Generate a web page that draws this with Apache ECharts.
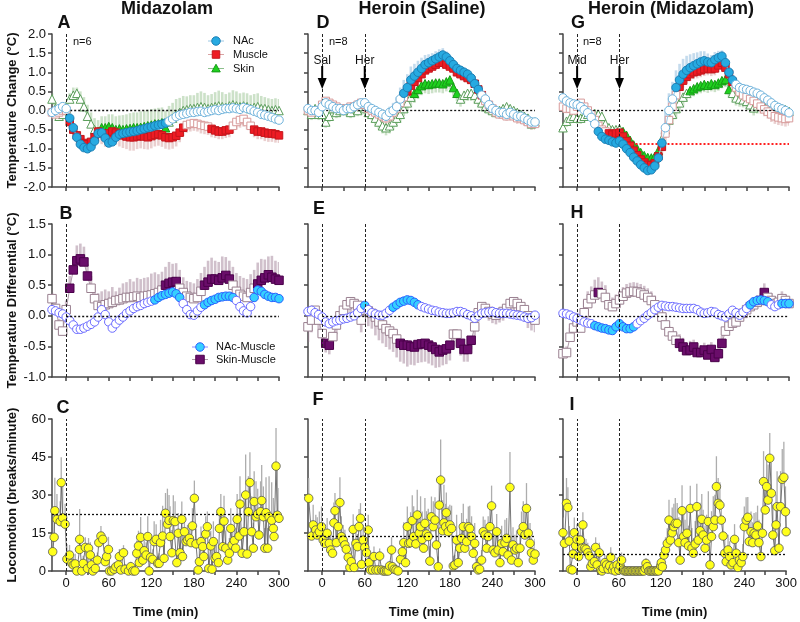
<!DOCTYPE html>
<html><head><meta charset="utf-8">
<script src="https://cdn.jsdelivr.net/npm/echarts@6/dist/echarts.min.js"></script>
<style>html,body{margin:0;padding:0;background:#fff}#c{width:800px;height:622px}</style>
</head><body><div id="c"></div>
<script>
// ---------- DATA ----------
const timeT = [-20,-15,-10,-5,0,5,10,15,20,25,30,35,40,45,50,55,60,65,70,75,80,85,90,95,100,105,110,115,120,125,130,135,140,145,150,155,160,165,170,175,180,185,190,195,200,205,210,215,220,225,230,235,240,245,250,255,260,265,270,275,280,285,290,295,300];
const xTicks = [0,30,60,90,120,150,180,210,240,270,300];
const xLabels = [0,60,120,180,240,300];

// Panel A (Midazolam) temperature change
const A_nac = [-0.05,0.0,0.05,0.1,0.05,-0.2,-0.45,-0.7,-0.88,-0.97,-1.0,-0.95,-0.8,
 -0.6,-0.58,-0.72,-0.85,-0.82,-0.7,-0.62,-0.6,-0.58,-0.56,-0.55,-0.53,-0.5,
 -0.48,-0.45,-0.43,-0.4,-0.38,-0.36,-0.33,-0.28,-0.22,-0.16,-0.12,-0.1,-0.08,
 -0.05,-0.05,-0.03,-0.02,-0.05,-0.03,0.0,0.02,0.0,0.03,0.05,0.05,0.07,
 0.05,0.03,0.08,0.05,0.02,-0.02,-0.05,-0.1,-0.12,-0.15,-0.18,-0.22,-0.25];
const A_nac_err = [0.05,0.05,0.05,0.05,0.05,0.06,0.08,0.1,0.1,0.1,0.1,0.1,0.1,
 0.08,0.08,0.08,0.1,0.1,0.08,0.08,0.08,0.08,0.08,0.08,0.08,0.08,
 0.08,0.08,0.08,0.08,0.08,0.08,0.08,0.08,0.08,0.08,0.08,0.08,0.08,
 0.08,0.08,0.08,0.08,0.08,0.08,0.08,0.08,0.08,0.08,0.08,0.08,0.08,
 0.08,0.08,0.08,0.08,0.08,0.08,0.08,0.08,0.08,0.08,0.08,0.08,0.08];
const A_nac_sig = [[5,140]];
const A_mus = [-0.05,-0.1,-0.05,0.0,0.0,-0.3,-0.5,-0.65,-0.75,-0.85,-0.88,-0.82,-0.7,
 -0.55,-0.6,-0.65,-0.6,-0.55,-0.58,-0.62,-0.65,-0.68,-0.7,-0.7,-0.68,-0.66,
 -0.68,-0.7,-0.67,-0.64,-0.62,-0.65,-0.7,-0.72,-0.7,-0.66,-0.58,-0.45,-0.38,
 -0.35,-0.33,-0.35,-0.38,-0.4,-0.42,-0.48,-0.52,-0.55,-0.55,-0.52,-0.5,-0.4,
 -0.3,-0.25,-0.22,-0.3,-0.4,-0.5,-0.55,-0.55,-0.58,-0.6,-0.6,-0.62,-0.65];
const A_mus_err = [0.1,0.1,0.1,0.1,0.1,0.15,0.15,0.18,0.2,0.2,0.2,0.22,0.25,
 0.25,0.28,0.3,0.3,0.3,0.32,0.32,0.33,0.33,0.35,0.35,0.33,0.33,
 0.33,0.32,0.32,0.3,0.3,0.3,0.3,0.3,0.3,0.28,0.25,0.22,0.2,
 0.2,0.2,0.2,0.22,0.22,0.22,0.22,0.2,0.2,0.2,0.2,0.2,0.2,
 0.2,0.2,0.2,0.2,0.2,0.2,0.2,0.2,0.22,0.22,0.22,0.22,0.2];
const A_mus_sig = [[5,165],[205,230],[265,300]];
const A_skin = [0.3,0.05,-0.15,-0.1,0.05,0.3,0.4,0.45,0.3,0.1,-0.15,-0.35,-0.5,
 -0.55,-0.45,-0.45,-0.42,-0.45,-0.5,-0.48,-0.5,-0.48,-0.47,-0.45,-0.45,-0.44,
 -0.42,-0.4,-0.38,-0.35,-0.35,-0.32,-0.45,-0.3,-0.2,-0.1,-0.05,0.0,0.02,
 0.05,0.05,0.08,0.1,0.08,0.05,0.08,0.1,0.12,0.1,0.08,0.12,0.15,
 0.12,0.1,0.12,0.1,0.05,0.08,0.1,0.05,0.05,0.02,0.0,0.02,0.0];
const A_skin_err = [0.15,0.15,0.15,0.15,0.15,0.15,0.2,0.15,0.2,0.25,0.3,0.3,0.3,
 0.3,0.3,0.3,0.32,0.35,0.35,0.35,0.38,0.38,0.4,0.4,0.4,0.42,
 0.42,0.42,0.42,0.4,0.42,0.4,0.45,0.42,0.4,0.4,0.38,0.38,0.35,
 0.35,0.35,0.38,0.4,0.38,0.35,0.35,0.38,0.4,0.38,0.35,0.35,0.38,
 0.38,0.35,0.35,0.35,0.35,0.35,0.35,0.33,0.3,0.3,0.3,0.3,0.3];
const A_skin_sig = [[45,140]];

// Panel D (Heroin, Saline)
const D_nac = [0.05,0.0,0.0,-0.05,0.1,0.2,0.15,0.1,0.05,0.05,0.0,0.05,0.05,
 0.1,0.15,0.2,0.2,0.1,0.05,0.0,-0.05,-0.1,-0.15,-0.05,0.0,0.1,
 0.3,0.45,0.6,0.8,0.9,1.0,1.1,1.2,1.25,1.3,1.35,1.4,1.45,
 1.4,1.3,1.2,1.1,1.05,1.0,0.95,0.85,0.7,0.55,0.4,0.3,0.15,
 0.05,0.0,-0.05,-0.05,-0.1,-0.05,-0.1,-0.15,-0.15,-0.2,-0.25,-0.3,-0.3];
const D_nac_err = [0.06,0.06,0.06,0.06,0.06,0.08,0.08,0.08,0.08,0.08,0.08,0.08,0.08,
 0.08,0.08,0.1,0.1,0.1,0.1,0.1,0.1,0.1,0.12,0.15,0.2,0.25,
 0.3,0.35,0.35,0.35,0.32,0.3,0.28,0.25,0.22,0.2,0.2,0.2,0.18,
 0.15,0.15,0.12,0.12,0.12,0.12,0.12,0.1,0.1,0.1,0.1,0.1,0.1,
 0.1,0.1,0.1,0.1,0.1,0.1,0.1,0.1,0.1,0.1,0.1,0.1,0.1];
const D_nac_sig = [[115,220]];
const D_mus = [0.0,-0.05,0.0,0.0,0.15,0.25,0.2,0.15,0.1,0.05,0.05,0.05,0.1,
 0.1,0.15,0.2,0.15,0.05,0.0,-0.05,-0.1,-0.15,-0.2,-0.15,-0.05,0.05,
 0.2,0.35,0.5,0.65,0.75,0.85,0.95,1.05,1.1,1.15,1.2,1.25,1.25,
 1.2,1.15,1.1,1.0,0.95,0.9,0.85,0.8,0.7,0.55,0.4,0.25,0.15,
 0.05,-0.05,-0.1,-0.1,-0.15,-0.1,-0.15,-0.2,-0.2,-0.25,-0.3,-0.35,-0.35];
const D_mus_err = [0.1,0.1,0.1,0.1,0.1,0.12,0.12,0.12,0.12,0.12,0.12,0.12,0.12,
 0.12,0.12,0.12,0.12,0.12,0.15,0.15,0.15,0.15,0.15,0.15,0.15,0.15,
 0.15,0.15,0.15,0.15,0.15,0.15,0.12,0.12,0.12,0.12,0.12,0.12,0.12,
 0.12,0.12,0.12,0.12,0.12,0.12,0.12,0.12,0.12,0.12,0.12,0.12,0.12,
 0.12,0.12,0.12,0.12,0.12,0.12,0.12,0.15,0.15,0.15,0.15,0.15,0.15];
const D_mus_sig = [[120,225]];
const D_skin = [0.0,-0.1,0.05,-0.1,-0.1,-0.3,-0.15,0.05,-0.05,0.0,0.05,0.0,-0.05,
 0.05,0.0,0.1,0.05,-0.05,-0.1,-0.2,-0.3,-0.4,-0.45,-0.4,-0.3,-0.2,
 -0.1,0.05,0.2,0.35,0.45,0.55,0.65,0.7,0.68,0.7,0.72,0.72,0.7,
 0.75,0.8,0.6,0.45,0.3,0.4,0.45,0.45,0.4,0.3,0.2,0.1,0.05,
 0.0,-0.05,0.0,0.05,0.1,0.05,0.0,-0.05,-0.1,-0.15,-0.2,-0.35,-0.3];
const D_skin_err = [0.15,0.15,0.15,0.15,0.15,0.15,0.15,0.15,0.15,0.15,0.15,0.15,0.15,
 0.15,0.15,0.15,0.15,0.15,0.15,0.18,0.2,0.2,0.2,0.2,0.2,0.2,
 0.2,0.2,0.22,0.25,0.25,0.25,0.25,0.25,0.25,0.25,0.25,0.25,0.25,
 0.25,0.25,0.22,0.2,0.2,0.2,0.2,0.2,0.2,0.18,0.15,0.15,0.15,
 0.15,0.15,0.15,0.15,0.15,0.15,0.15,0.15,0.15,0.15,0.15,0.15,0.15];
const D_skin_sig = [[130,190]];

// Panel G (Heroin, Midazolam)
const G_nac = [0.33,0.25,0.2,0.17,0.15,0.1,0.02,-0.06,-0.18,-0.35,-0.55,-0.68,-0.75,
 -0.78,-0.82,-0.85,-0.8,-0.88,-1.0,-1.1,-1.22,-1.32,-1.42,-1.5,-1.57,-1.55,
 -1.45,-1.24,-0.85,-0.45,0.0,0.3,0.6,0.8,0.95,1.05,1.12,1.17,1.22,
 1.27,1.3,1.27,1.25,1.33,1.38,1.42,1.25,1.0,0.8,0.68,0.6,0.57,
 0.55,0.52,0.48,0.45,0.4,0.33,0.27,0.2,0.13,0.08,0.04,0.0,-0.06];
const G_nac_err = [0.08,0.08,0.08,0.08,0.08,0.08,0.08,0.08,0.08,0.08,0.08,0.08,0.08,
 0.08,0.08,0.08,0.08,0.1,0.1,0.12,0.12,0.12,0.12,0.12,0.12,0.12,
 0.15,0.2,0.3,0.4,0.45,0.45,0.45,0.42,0.4,0.38,0.35,0.33,0.3,
 0.28,0.25,0.22,0.2,0.2,0.18,0.15,0.15,0.12,0.12,0.1,0.1,0.1,
 0.1,0.1,0.1,0.1,0.1,0.1,0.1,0.1,0.1,0.1,0.1,0.1,0.1];
const G_nac_sig = [[30,120],[140,220]];
const G_mus = [0.1,0.05,0.05,0.0,0.1,0.2,0.1,0.0,-0.1,-0.25,-0.4,-0.5,-0.55,
 -0.6,-0.63,-0.6,-0.58,-0.68,-0.8,-0.92,-1.05,-1.17,-1.28,-1.36,-1.42,-1.43,
 -1.38,-1.2,-0.95,-0.6,-0.25,0.1,0.4,0.62,0.78,0.88,0.95,1.0,1.02,
 1.05,1.08,1.1,1.08,1.1,1.18,1.25,1.12,0.95,0.75,0.6,0.48,0.4,
 0.35,0.3,0.25,0.18,0.1,0.03,-0.03,-0.1,-0.15,-0.18,-0.2,-0.22,-0.2];
const G_mus_err = [0.12,0.12,0.12,0.12,0.12,0.12,0.12,0.12,0.12,0.12,0.12,0.12,0.12,
 0.12,0.12,0.12,0.12,0.15,0.15,0.18,0.18,0.2,0.2,0.2,0.22,0.22,
 0.22,0.22,0.22,0.2,0.2,0.2,0.2,0.2,0.18,0.18,0.18,0.18,0.18,
 0.18,0.18,0.18,0.18,0.18,0.18,0.18,0.18,0.18,0.18,0.18,0.18,0.18,
 0.18,0.18,0.18,0.18,0.18,0.18,0.18,0.2,0.2,0.2,0.2,0.2,0.2];
const G_mus_sig = [[45,120],[145,220]];
const G_skin = [-0.45,-0.28,-0.2,-0.15,-0.2,-0.2,-0.15,-0.1,-0.1,-0.08,-0.1,-0.15,-0.35,
 -0.45,-0.5,-0.5,-0.48,-0.55,-0.65,-0.78,-0.9,-1.0,-1.1,-1.18,-1.23,-1.24,
 -1.2,-1.05,-0.75,-0.5,-0.25,-0.1,0.05,0.2,0.35,0.45,0.52,0.57,0.62,
 0.65,0.68,0.66,0.7,0.68,0.72,0.78,0.81,0.55,0.45,0.33,0.3,0.28,
 0.24,0.15,0.07,0.12,0.16,0.1,0.07,0.08,0.05,0.07,0.05,0.02,-0.02];
const G_skin_err = [0.15,0.15,0.15,0.15,0.15,0.15,0.15,0.15,0.15,0.15,0.15,0.15,0.15,
 0.15,0.15,0.15,0.15,0.15,0.15,0.15,0.15,0.15,0.15,0.15,0.15,0.15,
 0.15,0.18,0.2,0.22,0.25,0.25,0.25,0.25,0.25,0.22,0.2,0.2,0.2,
 0.2,0.2,0.2,0.2,0.2,0.2,0.2,0.2,0.2,0.2,0.2,0.2,0.2,
 0.2,0.2,0.2,0.2,0.2,0.2,0.2,0.2,0.2,0.2,0.2,0.2,0.2];
const G_skin_sig = [[65,115],[160,215]];

// Panel B / E / H : temperature differentials
const B_nacm = [0.1,0.08,0.05,0.03,-0.02,-0.08,-0.15,-0.22,-0.22,-0.2,-0.17,-0.14,-0.1,
 -0.02,0.1,0.02,-0.1,-0.2,-0.13,-0.07,-0.02,0.04,0.08,0.12,0.15,0.17,
 0.2,0.22,0.24,0.26,0.3,0.33,0.35,0.37,0.39,0.36,0.3,0.2,0.1,
 0.02,0.01,0.08,0.14,0.18,0.22,0.25,0.27,0.3,0.31,0.32,0.32,0.3,
 0.25,0.15,0.08,0.05,0.15,0.3,0.42,0.4,0.35,0.32,0.3,0.3,0.28];
const B_nacm_err = [0.03,0.03,0.03,0.03,0.03,0.04,0.04,0.05,0.05,0.05,0.05,0.05,0.05,
 0.05,0.05,0.05,0.05,0.05,0.05,0.05,0.04,0.04,0.04,0.04,0.04,0.04,
 0.04,0.04,0.04,0.04,0.04,0.04,0.04,0.04,0.04,0.04,0.04,0.04,0.04,
 0.04,0.04,0.04,0.04,0.04,0.04,0.04,0.04,0.04,0.04,0.04,0.04,0.04,
 0.04,0.04,0.04,0.04,0.04,0.05,0.05,0.05,0.04,0.04,0.04,0.04,0.04];
const B_nacm_sig = [[125,160],[195,235],[265,300]];
const B_skinm = [0.28,0.12,-0.15,-0.25,0.1,0.45,0.75,0.9,0.93,0.88,0.65,0.45,0.28,
 0.17,0.15,0.18,0.2,0.22,0.25,0.26,0.28,0.3,0.3,0.31,0.32,0.3,
 0.32,0.33,0.34,0.36,0.38,0.42,0.5,0.53,0.55,0.56,0.45,0.38,0.32,
 0.3,0.28,0.3,0.4,0.5,0.55,0.6,0.6,0.58,0.62,0.66,0.6,0.5,
 0.4,0.35,0.32,0.3,0.38,0.45,0.52,0.58,0.62,0.67,0.63,0.6,0.58];
const B_skinm_err = [0.1,0.1,0.1,0.1,0.15,0.2,0.2,0.25,0.25,0.25,0.2,0.2,0.2,
 0.2,0.25,0.25,0.2,0.25,0.15,0.2,0.25,0.25,0.3,0.25,0.3,0.3,
 0.3,0.3,0.35,0.35,0.3,0.3,0.3,0.35,0.3,0.3,0.3,0.25,0.25,
 0.25,0.25,0.3,0.3,0.3,0.35,0.35,0.3,0.3,0.35,0.3,0.3,0.3,
 0.3,0.3,0.3,0.3,0.3,0.3,0.35,0.35,0.3,0.3,0.35,0.3,0.3];
const B_skinm_sig = [[5,30],[140,155],[195,230],[270,300]];

const E_nacm = [0.07,0.09,0.05,0.02,-0.02,-0.1,-0.13,-0.1,-0.08,-0.07,-0.05,-0.04,-0.02,
 0.0,0.05,0.12,0.17,0.1,0.05,0.03,0.01,0.01,0.04,0.09,0.14,0.18,
 0.22,0.24,0.26,0.25,0.22,0.18,0.15,0.13,0.11,0.09,0.08,0.06,0.05,
 0.04,0.04,0.05,0.07,0.07,0.05,0.02,0.0,-0.04,0.0,0.04,0.05,0.06,
 0.07,0.05,0.04,0.04,0.04,0.03,0.02,0.01,0.0,-0.02,-0.04,-0.03,0.01];
const E_nacm_err = [0.03,0.03,0.03,0.03,0.03,0.03,0.03,0.03,0.03,0.03,0.03,0.03,0.03,
 0.03,0.03,0.03,0.03,0.03,0.03,0.03,0.03,0.03,0.03,0.03,0.03,0.03,
 0.03,0.03,0.03,0.03,0.03,0.03,0.03,0.03,0.03,0.03,0.03,0.03,0.03,
 0.03,0.03,0.03,0.03,0.03,0.03,0.03,0.03,0.03,0.03,0.03,0.03,0.03,
 0.03,0.03,0.03,0.03,0.03,0.03,0.03,0.03,0.03,0.03,0.03,0.03,0.03];
const E_nacm_sig = [[60,60],[100,135]];
const E_skinm = [-0.18,-0.07,0.09,-0.07,-0.29,-0.45,-0.48,-0.34,-0.15,0.0,0.09,0.18,0.23,
 0.2,0.17,-0.07,0.09,0.08,0.04,-0.02,-0.1,-0.15,-0.21,-0.25,-0.29,-0.38,
 -0.45,-0.48,-0.48,-0.5,-0.51,-0.47,-0.46,-0.45,-0.48,-0.51,-0.55,-0.59,-0.56,
 -0.54,-0.48,-0.3,-0.3,-0.45,-0.55,-0.55,-0.4,-0.18,0.05,0.15,0.12,0.07,
 0.03,0.01,0.04,0.07,0.12,0.2,0.23,0.2,0.15,0.1,0.0,-0.04,-0.07];
const E_skinm_err = [0.25,0.2,0.15,0.15,0.2,0.15,0.15,0.15,0.15,0.15,0.15,0.2,0.2,
 0.2,0.25,0.2,0.2,0.25,0.25,0.3,0.3,0.3,0.3,0.3,0.3,0.3,
 0.3,0.3,0.35,0.3,0.3,0.3,0.3,0.3,0.3,0.3,0.3,0.25,0.25,
 0.25,0.25,0.2,0.2,0.2,0.2,0.2,0.15,0.15,0.15,0.15,0.15,0.15,
 0.15,0.15,0.15,0.15,0.15,0.15,0.15,0.15,0.15,0.2,0.2,0.2,0.2];
const E_skinm_sig = [[5,10],[110,180],[195,210]];

const H_nacm = [0.04,0.03,0.01,-0.02,-0.04,-0.07,-0.1,-0.12,-0.13,-0.16,-0.18,-0.2,-0.21,
 -0.23,-0.24,-0.18,-0.13,-0.18,-0.21,-0.21,-0.18,-0.13,-0.08,-0.04,0.01,0.05,
 0.1,0.14,0.17,0.16,0.15,0.15,0.14,0.13,0.12,0.12,0.12,0.12,0.1,
 0.06,0.04,0.05,0.07,0.06,0.02,0.0,-0.02,0.03,0.09,0.05,0.01,0.06,
 0.12,0.18,0.23,0.25,0.26,0.25,0.23,0.18,0.15,0.18,0.2,0.2,0.2];
const H_nacm_err = [0.03,0.03,0.03,0.03,0.03,0.03,0.03,0.03,0.03,0.03,0.03,0.03,0.03,
 0.03,0.03,0.03,0.03,0.03,0.03,0.03,0.03,0.03,0.03,0.03,0.03,0.03,
 0.03,0.03,0.03,0.03,0.03,0.03,0.03,0.03,0.03,0.03,0.03,0.03,0.03,
 0.03,0.03,0.03,0.03,0.03,0.03,0.03,0.03,0.03,0.03,0.03,0.03,0.03,
 0.03,0.03,0.03,0.03,0.03,0.03,0.03,0.03,0.03,0.03,0.03,0.03,0.03];
const H_nacm_sig = [[25,80],[245,270],[290,300]];
const H_skinm = [-0.62,-0.6,-0.35,-0.2,-0.1,-0.2,0.05,0.2,0.28,0.34,0.38,0.36,0.3,
 0.18,0.15,0.2,0.26,0.32,0.37,0.39,0.4,0.39,0.37,0.34,0.3,0.25,
 0.18,0.09,-0.02,-0.15,-0.26,-0.33,-0.4,-0.45,-0.51,-0.57,-0.56,-0.51,-0.6,
 -0.6,-0.56,-0.64,-0.55,-0.68,-0.62,-0.45,-0.25,-0.17,-0.12,-0.1,-0.02,0.04,
 0.1,0.15,0.18,0.22,0.25,0.38,0.3,0.25,0.2,0.22,0.28,0.25,0.2];
const H_skinm_err = [0.1,0.1,0.15,0.15,0.15,0.15,0.2,0.2,0.2,0.25,0.25,0.2,0.2,
 0.15,0.15,0.15,0.15,0.15,0.15,0.15,0.15,0.15,0.15,0.15,0.15,0.15,
 0.15,0.12,0.1,0.1,0.1,0.1,0.12,0.15,0.15,0.12,0.15,0.12,0.15,
 0.12,0.12,0.12,0.12,0.12,0.12,0.12,0.12,0.1,0.1,0.1,0.1,0.1,
 0.1,0.1,0.1,0.12,0.12,0.15,0.12,0.12,0.12,0.12,0.12,0.1,0.1];
const H_skinm_sig = [[30,30],[145,205],[265,265]];

// Locomotion: [time, mean, sem]
const locoC = [[-19,7.6,4],[-17,13.3,10],[-16,23.8,13],[-13,20.4,10],[-8.5,19.5,8],[-7,34.9,10],[-5,21,14],[-1.5,18.5,8],[1,4.7,6],[4.7,6.3,4],[8,3,5],[10,2.4,3],[12.7,2.8,4],[15,0,1],[18.8,8.5,4],[19,12.5,12],[22,0,1],[24,3,3],[27,9.3,4],[30,1,2],[31.5,9,4],[34,6.3,5],[35.5,2.4,3],[37.6,0,1],[41,1,2],[44,4.3,3],[46,11.2,3],[49,13.8,4],[51.6,12.5,3],[55,3.7,3],[57,5.7,4],[59.6,8.5,5],[61,0,1],[64,0,1],[67.6,0.7,2],[70,1.7,2],[73.7,2.4,3],[75,5.7,3],[77,0.4,1],[80.8,7.2,3],[83,0.7,2],[87.8,0,1],[91,1.7,2],[94,0,1],[97,0,1],[99.5,7,5],[101.9,9.9,6],[103,3.3,3],[105,13.3,8],[108,4.3,4],[110,8,6],[112.7,6.3,5],[115,13.6,8],[117,0,2],[119,5.4,5],[122,4.6,4],[124,11.6,8],[126.8,12.5,6],[129,3,3],[131,3,4],[133,11.2,9],[136,13.8,12],[138,5,6],[140,22.8,8],[142.7,18.5,14],[145,20,10],[146.5,13.6,12],[149,7.2,9],[151,19.9,10],[153.5,19.5,8],[156,3.3,5],[158,14.9,8],[160.5,7.2,6],[163,20.4,7],[164,5.7,4],[166.7,15.5,6],[169,11.6,5],[171,12.2,6],[173.7,12.9,5],[176,11.2,6],[178,17.8,7],[180.7,28.7,7],[183,10.7,6],[186,0.4,2],[187.8,3.7,5],[190,11.6,6],[192.5,9.6,5],[194,5.7,5],[196.7,14.6,7],[199,17.5,6],[201,1,3],[203.8,9.9,6],[205.6,0.7,3],[207.5,11.6,8],[209.9,5,6],[212,5.7,6],[214.6,3.3,4],[216,16.8,8],[218,23.4,7],[220.7,9.6,8],[222.5,19.7,10],[225,9,7],[227.7,4.3,5],[230,7,6],[232,16.8,8],[234,10.3,7],[237,12,9],[239,9,8],[241,20.4,10],[243.7,13.8,9],[245,26.4,11],[248,7,8],[250.7,15.5,14],[253,30,16],[255,6.7,8],[256.8,23.4,14],[259,34.9,12],[261.5,15.5,14],[263.8,9,10],[265,27.4,12],[267.6,21.4,14],[270,22.5,10],[271.8,14.2,10],[274,23.4,12],[275.6,27.8,14],[278,21.4,12],[280,9,8],[281.7,23,14],[284,9,8],[286,21.4,16],[289.7,20,15],[292,16.8,12],[293,13.6,10],[295.8,41.4,15],[297.7,22,18],[300,20.8,12]];
const locoF = [[-19,28.7,8],[-15,13.8,6],[-12.7,18.2,8],[-9,16.2,6],[-7,14.2,7],[-4,15.5,8],[-1,17.5,8],[1.4,12.2,6],[3.8,10.9,5],[7,14.9,6],[10,10.9,5],[12,8.3,6],[14.6,7,6],[16.5,19,8],[18,23.8,7],[20,11.2,9],[22.6,17.5,8],[25,27,10],[27,13.6,8],[29.6,12.2,6],[32,10.3,6],[34,8.6,5],[36.7,5.4,5],[39,1.4,3],[41,3.7,4],[43.7,16.4,6],[45,1.4,3],[47.5,10.9,6],[49.8,9.6,5],[52,17.5,7],[54,20.8,6],[55.5,2.6,3],[57.8,12.2,6],[60,9.3,5],[62.5,7.2,6],[64.9,16.2,6],[66,3.3,4],[68,0.4,2],[71,0.4,2],[73,5.7,4],[75.7,0.4,1],[79,0.4,1],[81,5.9,3],[83.7,0.4,1],[86,0,1],[88,0,1],[90.7,0,1],[93,0,1],[95,2,2],[97.8,8.3,5],[99,1.7,2],[101.5,0.7,2],[104,0.4,1],[107,0,1],[110.5,4.6,4],[113,7.6,5],[115,11.2,8],[117.5,3.3,5],[120,17.5,8],[122,10.9,8],[124.6,11.2,12],[127,19.9,10],[129,13.6,12],[132,10.7,9],[134,22.1,10],[136.8,14.9,9],[138.7,17.5,12],[141,12.5,11],[143,9,10],[144.8,18.8,10],[147,14.6,9],[149.5,13.6,11],[151.8,3.9,6],[154,21.4,8],[156.6,17.5,10],[159,20.1,9],[161,10.3,8],[163.6,1.7,4],[165,26,9],[167,35.9,16],[169.7,15.9,12],[171.6,19,15],[174,17.5,9],[175,23,8],[177.7,15.5,10],[180,18.2,8],[182.4,16.8,9],[184.8,2,4],[187,2.4,4],[189.5,12.2,10],[191.8,3.3,5],[194,9,8],[196.5,12.9,10],[198.9,17.5,9],[201,9,8],[203.6,11.6,9],[206,17.5,8],[208,16.8,9],[210.6,13.6,8],[213,7,6],[215,10.9,8],[217.7,1.7,3],[220,0.4,2],[222,0.7,2],[224.7,4.3,4],[227,15.5,6],[229.4,14.2,6],[231.8,9,7],[234,13.6,8],[236.5,17.5,9],[238.8,25.7,8],[241,8.3,8],[243.5,7.2,7],[246,15.5,7],[248,8.3,8],[250.6,3.3,5],[253,10.9,7],[255,7.6,6],[257.6,11.2,9],[260,12.9,8],[262,6.3,7],[264.7,33,14],[267,4.3,5],[269,10.3,7],[271.7,8.3,6],[274,9,7],[276.4,3.3,5],[278.8,9,7],[281,15.5,8],[283.5,17.5,10],[285.8,14.2,9],[288,24.7,10],[290.5,14.9,9],[293,10.9,8],[295,7.2,6],[297.6,4.3,5],[300,6.7,6]];
const locoI = [[-20,15.1,6],[-18,10.9,5],[-15,26.7,10],[-13,25.1,8],[-11,11.8,6],[-9.4,0.7,2],[-6.6,0.4,2],[-5.6,6.7,5],[-3.8,15.1,6],[-2,10,6],[0,12.5,6],[2.4,5.7,4],[4.7,12.2,5],[7,9,5],[8.5,18.2,5],[10.8,9,4],[13,8.6,4],[15.5,7.2,4],[17.9,5.9,4],[19.8,1.7,3],[22,3,3],[25,3.7,3],[26.8,9.3,4],[29,2.4,3],[32,7.2,4],[34,0.4,2],[35.8,0,1],[37.7,1,2],[40,3.3,3],[42.4,2.4,3],[44.7,0.7,2],[47,2,3],[48.5,5.4,4],[50.9,0.4,2],[52.8,1.7,2],[55,0,1],[57.5,2.4,3],[60,0.4,2],[62,2,2],[64,4.3,3],[66,0.4,2],[68,0,0],[70,0,0],[72,0,0],[74,0,0],[76,0,0],[78,0,0],[80,0,0],[82,0,0],[84,0,0],[86,0,0],[88,0,0],[90,0,0],[92,0,0],[94,0,0],[96,0,0],[98,1,1],[99,3,2],[101,1.7,2],[103,0,0],[105,0,0],[107,0,0],[109,0,0],[111,0,0],[113,0,0],[115,0,0],[117,0,0],[120,2,2],[121,3.3,3],[122.5,1.7,2],[124.8,6.3,4],[127,8.3,5],[129.5,10.9,6],[132,20.1,8],[134,12.2,9],[136.6,15.1,10],[139,17.5,9],[141,18.8,10],[143.7,18.8,8],[146,11.2,10],[148,4.3,6],[150.7,23.8,10],[153,13.6,10],[155,11.2,9],[157.8,14.9,9],[160,9.9,8],[162.5,24.7,9],[164.9,9,8],[167,7,6],[169.6,10.7,9],[171.9,25.4,9],[174,12.2,10],[176.6,15.9,11],[179,20.4,10],[181,14.2,10],[183.7,9,9],[186,12.2,10],[188.4,19.5,12],[190.8,2.4,5],[193,13.6,10],[195.5,17.5,12],[197.8,20.1,10],[200,33.3,12],[202.5,26.7,10],[205,26,9],[207,20.1,8],[209.6,13.8,8],[212,7,6],[214,3.7,5],[216.7,8.3,6],[219,5.7,6],[221,2.4,4],[223.7,3.3,4],[226,12.5,6],[228.4,7,6],[230.8,1.4,3],[233,4.3,4],[235.5,3.3,4],[237.9,5.7,5],[240,17.5,8],[242.6,20.1,9],[245,21.2,8],[247,11.6,9],[249.6,15.5,8],[252,11.2,8],[254,14.9,8],[256.7,14.2,9],[259,17.8,8],[261,11.2,9],[263.8,5.7,6],[266,14.9,10],[267.6,35.3,12],[270,24.1,12],[272,33.3,12],[274,28,14],[276.5,44.5,10],[278.8,30.7,12],[281,14.2,12],[283.6,8,10],[285.5,18.2,12],[287,25.4,14],[289.7,9,10],[292,25.4,14],[294.4,36.2,12],[296.7,37,14],[299,23.4,10],[300,15.5,8]];
const locoBaseline = [22.5, 13.8, 6.7];
const midThreshold = -0.88;
const eventTimes = [[0],[0,60],[0,60]];
const eventNames = [[],['Sal','Her'],['Mid','Her']];
const colTitles = ['Midazolam','Heroin (Saline)','Heroin (Midazolam)'];
const panelLetters = [['A','B','C'],['D','E','F'],['G','H','I']];
const nText = ['n=6','n=8','n=8'];

// ---------- STYLE / LAYOUT ----------
const FONT = '"Liberation Sans", Arial, sans-serif';
const ST = {
  nac:  {symbol:'circle',   size:8.5, fill:'#27aae1', border:'#1b7fb5', open:'#6fb3dc', line:'#9cc8e4', err:'rgba(125,175,215,0.45)'},
  mus:  {symbol:'rect',     size:7.5, fill:'#ee1c24', border:'#c4161c', open:'#d79a9a', line:'#d9a3a3', err:'rgba(200,130,130,0.38)'},
  skin: {symbol:'triangle', size:8.5, fill:'#1fd11f', border:'#159a15', open:'#5b9e5b', line:'#8cbf8c', err:'rgba(120,175,110,0.38)'},
  nacm: {symbol:'circle',   size:8.5, fill:'#35d0ff', border:'#2a60ff', open:'#6b6bff', line:'#8a8aff', err:'rgba(110,110,255,0.3)'},
  skinm:{symbol:'rect',     size:8.5, fill:'#6a0d6a', border:'#4a004a', open:'#9a8090', line:'#b09aa8', err:'rgba(150,115,140,0.45)'}
};
const colLeft = [52, 308, 563], colW = [227, 227, 226];
const rowTop = [34, 224, 419], rowH = [153, 153, 152];
const yCfg = [
  {min:-2, max:2, interval:0.5, fmt:v=>v.toFixed(1), name:'Temperature Change (°C)'},
  {min:-1, max:1.5, interval:0.5, fmt:v=>v.toFixed(1), name:'Temperature Differential (°C)'},
  {min:0, max:60, interval:15, fmt:v=>String(v), name:'Locomotion (breaks/minute)'}
];
const AX = '#444';

const grids = [], xAxes = [], yAxes = [];
for (let c = 0; c < 3; c++) for (let r = 0; r < 3; r++) {
  const g = c * 3 + r;
  grids.push({left: colLeft[c], top: rowTop[r], width: colW[c], height: rowH[r], containLabel: false});
  xAxes.push({gridIndex: g, type: 'value', min: -20, max: 300,
    axisLine: {onZero: false, lineStyle: {color: AX, width: 1.5}},
    axisTick: {show: true, customValues: xTicks, length: 4, lineStyle: {color: AX, width: 1.5}},
    axisLabel: {show: r === 2, customValues: xLabels, fontSize: 13, color: '#111', margin: 6, fontFamily: FONT},
    splitLine: {show: false},
    name: r === 2 ? 'Time (min)' : '', nameLocation: 'middle', nameGap: 35,
    nameTextStyle: {fontSize: 13, fontWeight: 'bold', color: '#111', fontFamily: FONT}});
  const y = yCfg[r];
  yAxes.push({gridIndex: g, type: 'value', min: y.min, max: y.max, interval: y.interval,
    axisLine: {show: true, onZero: false, lineStyle: {color: AX, width: 1.5}},
    axisTick: {show: true, length: 4, lineStyle: {color: AX, width: 1.5}},
    axisLabel: {show: c === 0, formatter: y.fmt, fontSize: 13, color: '#111', margin: 6, fontFamily: FONT},
    splitLine: {show: false},
    name: c === 0 ? y.name : '', nameLocation: 'middle', nameGap: 33, nameRotate: 90,
    nameTextStyle: {fontSize: 13, fontWeight: 'bold', color: '#111', fontFamily: FONT}});
}

function inSig(ranges, t) { return ranges.some(rg => t >= rg[0] && t <= rg[1]); }

function errSeries(g, data, color, dir, z, lw) {
  return {type: 'custom', xAxisIndex: g, yAxisIndex: g, clip: true, silent: true, z: z,
    encode: {x: 0, y: 1}, data: data, animation: false,
    renderItem: function (p, api) {
      const t = api.value(0), v = api.value(1), e = api.value(2);
      const a = api.coord([t, v]), b = api.coord([t, v + dir * e]);
      return {type: 'line', shape: {x1: a[0], y1: a[1], x2: b[0], y2: b[1]}, style: {stroke: color, lineWidth: lw}};
    }};
}

function tempSeries(g, vals, errs, sig, st, dir, z) {
  return [
    errSeries(g, timeT.map((t, i) => [t, vals[i], errs[i]]), st.err, dir, 1, 2.6),
    {type: 'line', xAxisIndex: g, yAxisIndex: g, z: z, silent: true, animation: false,
      symbol: st.symbol, symbolSize: st.size, showAllSymbol: true, clip: true,
      lineStyle: {color: st.line, width: 1},
      data: timeT.map((t, i) => {
        const f = inSig(sig, t);
        return {value: [t, vals[i]], itemStyle: {color: f ? st.fill : '#ffffff', borderColor: f ? st.border : st.open, borderWidth: 1}};
      })}
  ];
}

function locoSeries(g, arr) {
  return [
    errSeries(g, arr, '#adadad', 1, 1, 1.3),
    {type: 'line', xAxisIndex: g, yAxisIndex: g, z: 4, silent: true, animation: false,
      symbol: 'circle', symbolSize: 8.5, showAllSymbol: true,
      itemStyle: {color: '#ffff1a', borderColor: '#555', borderWidth: 0.8},
      lineStyle: {color: '#555', width: 0.8},
      data: arr.map(d => [d[0], d[1]])}
  ];
}

function refSeries(g, lines) {
  return {type: 'line', xAxisIndex: g, yAxisIndex: g, data: [], z: 2, silent: true, animation: false,
    markLine: {silent: true, symbol: ['none', 'none'], animation: false, label: {show: false}, data: lines}};
}
const dashV = t => ({xAxis: t, lineStyle: {color: '#222', type: [3, 2], width: 1}});
const dotH = (x1, x2, y, color, w) => [{coord: [x1, y], lineStyle: {color: color, type: [2, 2], width: w}}, {coord: [x2, y]}];

const series = [];
// column A
series.push(...tempSeries(0, A_skin, A_skin_err, A_skin_sig, ST.skin, 1, 3));
series.push(...tempSeries(0, A_mus, A_mus_err, A_mus_sig, ST.mus, -1, 4));
series.push(...tempSeries(0, A_nac, A_nac_err, A_nac_sig, ST.nac, 1, 5));
series.push(...tempSeries(1, B_skinm, B_skinm_err, B_skinm_sig, ST.skinm, 1, 3));
series.push(...tempSeries(1, B_nacm, B_nacm_err, B_nacm_sig, ST.nacm, -1, 4));
series.push(...locoSeries(2, locoC));
// column D
series.push(...tempSeries(3, D_skin, D_skin_err, D_skin_sig, ST.skin, -1, 3));
series.push(...tempSeries(3, D_mus, D_mus_err, D_mus_sig, ST.mus, -1, 4));
series.push(...tempSeries(3, D_nac, D_nac_err, D_nac_sig, ST.nac, 1, 5));
series.push(...tempSeries(4, E_skinm, E_skinm_err, E_skinm_sig, ST.skinm, -1, 3));
series.push(...tempSeries(4, E_nacm, E_nacm_err, E_nacm_sig, ST.nacm, -1, 4));
series.push(...locoSeries(5, locoF));
// column G
series.push(...tempSeries(6, G_skin, G_skin_err, G_skin_sig, ST.skin, -1, 3));
series.push(...tempSeries(6, G_mus, G_mus_err, G_mus_sig, ST.mus, -1, 4));
series.push(...tempSeries(6, G_nac, G_nac_err, G_nac_sig, ST.nac, 1, 5));
series.push(...tempSeries(7, H_skinm, H_skinm_err, H_skinm_sig, ST.skinm, 1, 3));
series.push(...tempSeries(7, H_nacm, H_nacm_err, H_nacm_sig, ST.nacm, -1, 4));
series.push(...locoSeries(8, locoI));

// reference lines
for (let c = 0; c < 3; c++) {
  for (let r = 0; r < 3; r++) {
    const g = c * 3 + r;
    const lines = eventTimes[c].map(dashV);
    if (r < 2) lines.push(dotH(0, 300, 0, '#111', 1.3));
    else lines.push(dotH(-20, 300, locoBaseline[c], '#111', 1.3));
    if (g === 6) lines.push(dotH(60, 300, midThreshold, '#ff2020', 2));
    series.push(refSeries(g, lines));
  }
}

const chart = echarts.init(document.getElementById('c'), null, {renderer: 'canvas'});
chart.setOption({
  animation: false,
  backgroundColor: '#ffffff',
  textStyle: {fontFamily: FONT},
  grid: grids, xAxis: xAxes, yAxis: yAxes, series: series
});

// ---------- annotations ----------
const gr = [];
const txt = (x, y, s, font, align) => ({type: 'text', x: x, y: y, z: 100, silent: true,
  style: {text: s, font: font, fill: '#111', textAlign: align || 'center', textVerticalAlign: 'middle', align: align || 'center', verticalAlign: 'middle'}});
const titleX = [167, 422, 671];
for (let c = 0; c < 3; c++) gr.push(txt(titleX[c], 9, colTitles[c], 'bold 18px ' + FONT));
const letterPos = [[[64, 23], [66, 214], [63, 408]], [[323, 23], [319, 209], [318, 400]], [[578, 23], [577, 213], [572, 405]]];
for (let c = 0; c < 3; c++) for (let r = 0; r < 3; r++) gr.push(txt(letterPos[c][r][0], letterPos[c][r][1], panelLetters[c][r], 'bold 18px ' + FONT));
const nX = [73, 329, 583];
for (let c = 0; c < 3; c++) gr.push(txt(nX[c], 42, nText[c], '11px ' + FONT, 'left'));
// arrows for injections
for (let c = 1; c < 3; c++) {
  eventTimes[c].forEach((t, k) => {
    const x = chart.convertToPixel({xAxisIndex: c * 3}, t);
    gr.push({type: 'line', z: 100, silent: true, shape: {x1: x, y1: 66, x2: x, y2: 79}, style: {stroke: '#000', lineWidth: 2}});
    gr.push({type: 'polygon', z: 100, silent: true, shape: {points: [[x - 4.5, 78], [x + 4.5, 78], [x, 89]]}, style: {fill: '#000'}});
    gr.push(txt(x, 61, eventNames[c][k], '12px ' + FONT));
  });
}
// legends
function legendItem(x, y, st, label, x1, x2, tx) {
  gr.push({type: 'line', z: 100, silent: true, shape: {x1: x1, y1: y, x2: x2, y2: y}, style: {stroke: st.line, lineWidth: 1}});
  const h = st.size / 2;
  if (st.symbol === 'circle') gr.push({type: 'circle', z: 101, silent: true, shape: {cx: x, cy: y, r: h}, style: {fill: st.fill, stroke: st.border, lineWidth: 1}});
  else if (st.symbol === 'rect') gr.push({type: 'rect', z: 101, silent: true, shape: {x: x - h, y: y - h, width: st.size, height: st.size}, style: {fill: st.fill, stroke: st.border, lineWidth: 1}});
  else gr.push({type: 'polygon', z: 101, silent: true, shape: {points: [[x, y - h], [x + h, y + h * 0.8], [x - h, y + h * 0.8]]}, style: {fill: st.fill, stroke: st.border, lineWidth: 1}});
  gr.push(txt(tx, y, label, '11px ' + FONT, 'left'));
}
legendItem(216, 41, ST.nac, 'NAc', 208, 224, 233);
legendItem(216, 54.5, ST.mus, 'Muscle', 208, 224, 233);
legendItem(216, 68.5, ST.skin, 'Skin', 208, 224, 233);
legendItem(200, 347, ST.nacm, 'NAc-Muscle', 192, 208, 216);
legendItem(200, 359.5, ST.skinm, 'Skin-Muscle', 192, 208, 216);

chart.setOption({graphic: {elements: gr}});
</script>
</body></html>
